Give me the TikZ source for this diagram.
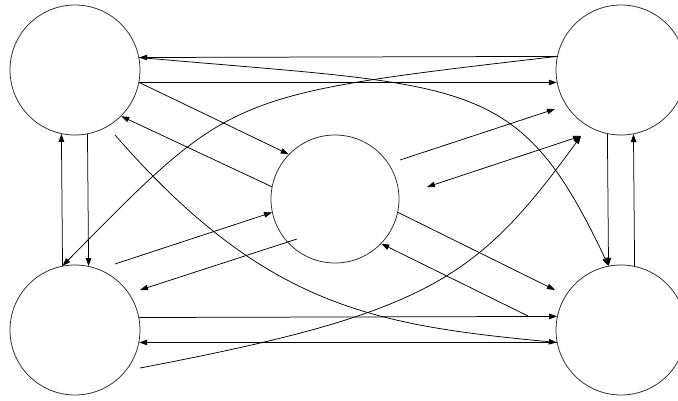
\documentclass[tikz,border=0pt]{standalone}
\usetikzlibrary{arrows.meta}
\begin{document}
\begin{tikzpicture}[x=1pt,y=-1pt,
  state/.style={circle,draw=black!85,line width=0.75pt,minimum size=130pt,inner sep=0pt},
  conn/.style={line width=0.75pt,-{Triangle[length=8pt,width=5.5pt]}},
  both/.style={line width=0.75pt,{Triangle[length=8pt,width=5.5pt]}-{Triangle[length=8pt,width=5.5pt]}}]
\useasboundingbox (0,0) rectangle (678,401);
\fill[white] (0,0) rectangle (678,401);
\node[state] (TL) at (75,70) {};
\node[state] (TR) at (621,70) {};
\node[state] (BL) at (75,330) {};
\node[state] (BR) at (621,330) {};
\node[state,minimum size=128pt] (C) at (335,199) {};
% free ends
\coordinate (cs1) at (400,160);
\coordinate (te1) at (555,109);
\coordinate (da) at (427,187);
\coordinate (trb) at (581,136);
\coordinate (be1) at (555,290);
\coordinate (bs2) at (528,316);
\coordinate (bl1) at (115,264);
\coordinate (cb2) at (297,239);
\coordinate (bl2) at (140,290);
\coordinate (tlb) at (115,135);
\coordinate (bls) at (140,368);
% horizontals
\draw[conn] (TR.168.5) -- (TL.11.5);
\draw[conn] (TL.-11.5) -- (TR.191.5);
\draw[conn] (BL.11.5) -- (BR.168.5);
\draw[conn] (BR.191.5) -- (BL.-11.5);
% verticals
\draw[conn] (BL.101.5) -- (TL.258.5);
\draw[conn] (TL.281.5) -- (BL.78.5);
\draw[conn] (TR.258.5) -- (BR.101.5);
\draw[conn] (BR.78.5) -- (TR.281.5);
% centre links
\draw[conn] (TL.-11.5) -- (C.136);
\draw[conn] (C.169) -- (TL.-45);
\draw[conn] (cs1) -- (te1);
\draw[both] (da) -- (trb);
\draw[conn] (C.-12) -- (be1);
\draw[conn] (bs2) -- (C.-44);
\draw[conn] (bl1) -- (C.192);
\draw[conn] (cb2) -- (bl2);
% curves
\draw[conn] (TL.11.5) .. controls (472,87) and (518,74) .. (BR.101.5);
\draw[conn] (TR.168.5) .. controls (226,95) and (233,93) .. (BL.101.5);
\draw[conn] (tlb) .. controls (265,307) and (373,325) .. (BR.191.5);
\draw[conn] (bls) .. controls (429,313) and (477,279) .. (trb);
\end{tikzpicture}
\end{document}
